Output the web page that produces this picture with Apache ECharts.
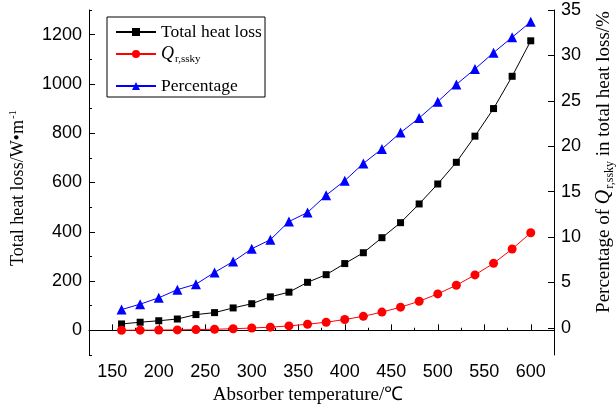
<!DOCTYPE html>
<html lang="en">
<head>
    <meta charset="UTF-8">
    <title>Heat loss</title>
    <script src="https://cdn.jsdelivr.net/npm/echarts@6/dist/echarts.min.js"></script>
</head>
<body style="margin:0">
    <div id="main" style="width: 616px;height:408px;"></div>
    <script type="text/javascript">
        // data
        var temps = [160, 180, 200, 220, 240, 260, 280, 300, 320, 340, 360, 380, 400, 420, 440, 460, 480, 500, 520, 540, 560, 580, 600];
        var totalLoss = [26, 33, 39, 46, 64, 72, 91, 108, 136, 155, 195, 226, 271, 315, 376, 437, 513, 594, 682, 788, 900, 1031, 1175];
        var qrSsky = [0.5, 0.9, 1.3, 1.9, 3.1, 4.4, 6.6, 9.4, 13, 18, 25, 33, 44, 57, 74, 94, 118, 148, 183, 225, 272, 330, 396];
        var percentage = [2.0, 2.6, 3.3, 4.2, 4.8, 6.1, 7.3, 8.7, 9.7, 11.7, 12.7, 14.6, 16.2, 18.1, 19.7, 21.5, 23.1, 24.9, 26.8, 28.5, 30.3, 32.0, 33.7];

        var xTicks = [150, 200, 250, 300, 350, 400, 450, 500, 550, 600];
        var leftTicks = [0, 200, 400, 600, 800, 1000, 1200];
        var rightTicks = [0, 5, 10, 15, 20, 25, 30, 35];

        var sans = 'Liberation Sans';
        var serif = 'Liberation Serif';

        function pairs(ys) {
            return temps.map(function (t, i) { return [t, ys[i]]; });
        }
        function plain(v) { return String(v); }

        // one legend per row so the rows can sit where the picture has them
        function legendRow(name, top) {
            return {
                orient: 'vertical',
                left: 107,
                top: top,
                padding: [0, 0, 0, 8],
                itemWidth: 40,
                itemHeight: 10,
                data: [name],
                formatter: function (n) {
                    return n === 'Qr' ? '{q|Q}{s|r,ssky}' : n;
                },
                textStyle: {
                    fontFamily: serif,
                    fontSize: 17.5,
                    color: '#000',
                    rich: {
                        q: { fontFamily: serif, fontSize: 18, fontStyle: 'italic', color: '#000' },
                        s: { fontFamily: serif, fontSize: 11, color: '#000', padding: [10, 0, 0, 1] }
                    }
                }
            };
        }

        var myChart = echarts.init(document.getElementById('main'));

        var option = {
            animation: false,
            grid: { left: 89, right: 62, top: 10, bottom: 53 },
            legend: [
                legendRow('Total heat loss', 23),
                legendRow('Qr', 45),
                legendRow('Percentage', 77)
            ],
            xAxis: [{
                type: 'value', min: 125, max: 625,
                axisLine: { lineStyle: { color: '#000', width: 1 } },
                axisTick: { inside: true, length: 6, customValues: xTicks, lineStyle: { color: '#000' } },
                axisLabel: { customValues: xTicks, formatter: plain, color: '#000', fontFamily: sans, fontSize: 18, margin: 8 },
                splitLine: { show: false }
            }, {
                type: 'value', min: 125, max: 625, interval: 25,
                axisLine: { show: false },
                axisTick: { inside: true, length: 3, lineStyle: { color: '#000' } },
                axisLabel: { show: false },
                splitLine: { show: false }
            }],
            yAxis: [{
                type: 'value', min: -100, max: 1300,
                position: 'left',
                axisLine: { show: true, lineStyle: { color: '#000', width: 1 } },
                axisTick: { show: true, inside: true, length: 6, customValues: leftTicks, lineStyle: { color: '#000' } },
                axisLabel: { customValues: leftTicks, formatter: plain, color: '#000', fontFamily: sans, fontSize: 18, margin: 7 },
                splitLine: { show: false }
            }, {
                type: 'value', min: -3, max: 35,
                position: 'right',
                axisLine: { show: true, lineStyle: { color: '#000', width: 1 } },
                axisTick: { show: true, inside: true, length: 6, customValues: rightTicks, lineStyle: { color: '#000' } },
                axisLabel: { customValues: rightTicks, formatter: plain, color: '#000', fontFamily: sans, fontSize: 18, margin: 7 },
                splitLine: { show: false }
            }, {
                type: 'value', min: -100, max: 1300, interval: 100,
                position: 'left',
                axisLine: { show: false },
                axisTick: { show: true, inside: true, length: 3, lineStyle: { color: '#000' } },
                axisLabel: { show: false },
                splitLine: { show: false }
            }],
            graphic: [{
                type: 'rect',
                shape: { x: 107, y: 17, width: 158, height: 80 },
                style: { fill: 'none', stroke: '#000', lineWidth: 1 }
            }, {
                type: 'text', x: 18, y: 188, rotation: Math.PI / 2,
                style: {
                    text: '{a|Total heat loss/W•m}{p|-1}',
                    align: 'center', verticalAlign: 'middle',
                    rich: {
                        a: { fontFamily: serif, fontSize: 18, fill: '#000' },
                        p: { fontFamily: serif, fontSize: 11, fill: '#000', padding: [0, 0, 10, 1] }
                    }
                }
            }, {
                type: 'text', x: 308, y: 395,
                style: {
                    text: 'Absorber temperature/℃',
                    align: 'center', verticalAlign: 'middle',
                    fontFamily: serif, fontSize: 19, fill: '#000'
                }
            }, {
                type: 'text', x: 604, y: 162, rotation: Math.PI / 2,
                style: {
                    text: '{a|Percentage of }{q|Q}{s|r,ssky}{a| in total heat loss/%}',
                    align: 'center', verticalAlign: 'middle',
                    rich: {
                        a: { fontFamily: serif, fontSize: 19, fill: '#000' },
                        q: { fontFamily: serif, fontSize: 20, fontStyle: 'italic', fill: '#000' },
                        s: { fontFamily: serif, fontSize: 12, fill: '#000', padding: [11, 0, 0, 1] }
                    }
                }
            }],
            series: [{
                name: 'Total heat loss', type: 'line',
                xAxisIndex: 0, yAxisIndex: 0,
                data: pairs(totalLoss),
                symbol: 'rect', symbolSize: 7,
                color: '#000',
                lineStyle: { color: '#000', width: 1 },
                itemStyle: { color: '#000' }
            }, {
                name: 'Qr', type: 'line',
                xAxisIndex: 0, yAxisIndex: 0,
                data: pairs(qrSsky),
                symbol: 'circle', symbolSize: 9,
                color: '#ff0000',
                lineStyle: { color: '#ff0000', width: 1 },
                itemStyle: { color: '#ff0000' }
            }, {
                name: 'Percentage', type: 'line',
                xAxisIndex: 0, yAxisIndex: 1,
                data: pairs(percentage),
                symbol: 'triangle', symbolSize: 10,
                color: '#0000ff',
                lineStyle: { color: '#0000ff', width: 1 },
                itemStyle: { color: '#0000ff' }
            }]
        };

        myChart.setOption(option);
    </script>
</body>
</html>
